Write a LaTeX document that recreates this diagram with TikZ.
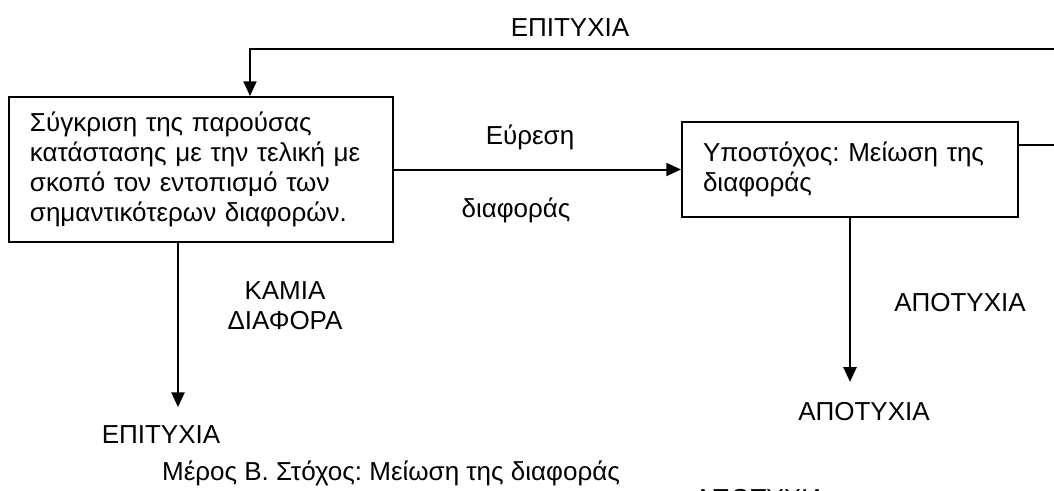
\documentclass[tikz,border=0pt]{standalone}
\usepackage{fontspec}
\setmainfont{Liberation Sans}
\usetikzlibrary{arrows.meta, calc}
\definecolor{colorline}{HTML}{000000}
\frenchspacing

\begin{document}
\begin{tikzpicture}[
    % pixel-like units, y pointing down
    x=0.75pt, y=-0.75pt,
    % Plain boxes of the flow
    box/.style={
        rectangle,
        draw=colorline,
        fill=white,
        align=left,
        inner xsep=15.75pt,
        inner ysep=0pt,
        line width=1.5pt,
        text=black,
        font=\fontsize{19.5}{22.5}\selectfont
    },
    txt/.style={
        align=center,
        inner sep=0pt,
        font=\fontsize{19.5}{22.5}\selectfont
    },
    arrow/.style={
        -{Triangle[length=11pt, width=9.75pt]},
        colorline,
        line width=1.5pt
    }
]
\useasboundingbox (0,0) rectangle (1054,490);

% ==============================
% Boxes
% ==============================
\node[box, text width=256.5pt, minimum height=108.75pt] (cmp) at (201,169.5) {
    Σύγκριση της παρούσας \\
    κατάστασης με την τελική με \\
    σκοπό τον εντοπισμό των \\
    σημαντικότερων διαφορών.
};

\node[box, text width=220.5pt, minimum height=71.25pt] (sub) at (850,169.5) {
    Υποστόχος: Μείωση της \\
    διαφοράς
};

% ==============================
% Labels
% ==============================
\node[txt] (succtop) at (570,28) {ΕΠΙΤΥΧΙΑ};
\node[txt] (find) at (530,137) {Εύρεση};
\node[txt] (diff) at (516,210) {διαφοράς};
\node[txt, text depth=2pt] (nodiff) at (285,307) {ΚΑΜΙΑ\\ΔΙΑΦΟΡΑ};
\node[txt] (failside) at (960,303) {ΑΠΟΤΥΧΙΑ};
\node[txt] (ok) at (161,435) {ΕΠΙΤΥΧΙΑ};
\node[txt] (fail) at (864,412) {ΑΠΟΤΥΧΙΑ};
\node[txt] (part) at (391,473) {Μέρος Β. Στόχος: Μείωση της διαφοράς};
\node[txt] (failcut) at (760,499) {ΑΠΟΤΥΧΙΑ};

% ==============================
% Arrows
% ==============================
\coordinate (back) at (1080,49);

\draw[arrow] (cmp) -- (sub);

% way back over the top (leaves the picture on the right)
\draw[arrow] ([yshift=18.75pt]sub.east) -| (back) -| ([xshift=36.75pt]cmp.north);

\draw[arrow, shorten >=14pt] ([xshift=-17.25pt]cmp.south) -- ([xshift=-17.25pt]cmp.south |- ok.north);
\draw[arrow, shorten >=15.5pt] (sub.south) -- (sub.south |- fail.north);

\end{tikzpicture}
\end{document}
